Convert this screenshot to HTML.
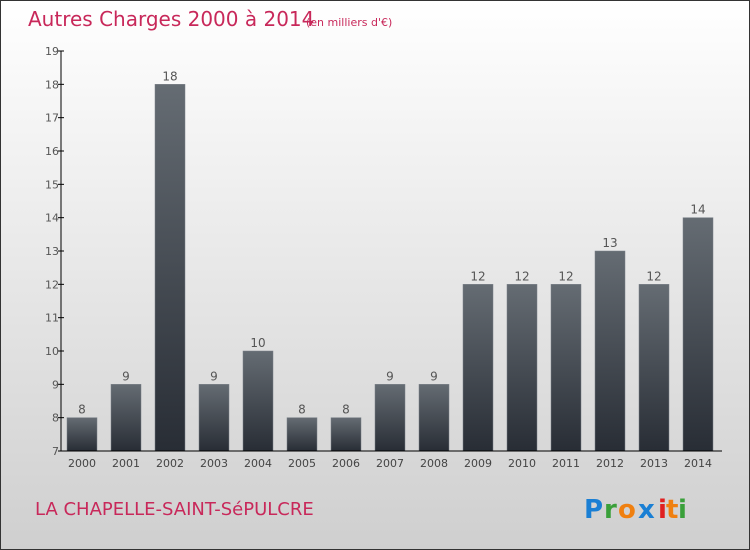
<!DOCTYPE html>
<html><head><meta charset="utf-8"><style>
body{margin:0}
#c{position:relative;width:748px;height:548px;border:1px solid #333;background:linear-gradient(#fff,#cfcfcf);font-family:"DejaVu Sans","Liberation Sans",sans-serif;overflow:hidden}
</style></head><body>
<div id="c">
<svg width="748" height="548" style="position:absolute;left:0;top:0">
<defs><linearGradient id="bg" x1="0" y1="0" x2="0" y2="1"><stop offset="0" stop-color="#656c73"/><stop offset="1" stop-color="#282d35"/></linearGradient></defs>
<text x="27" y="25" font-size="20" fill="#c8285a">Autres Charges 2000 à 2014</text>
<text x="305" y="25" font-size="11" fill="#c8285a">(en milliers d'€)</text>
<text x="34" y="514" font-size="18" fill="#c8285a">LA CHAPELLE-SAINT-SéPULCRE</text>
<g id="plot"></g>
<g font-size="26" font-family="'DejaVu Sans',sans-serif" font-weight="bold">
<text x="583" y="517" fill="#1a7fd4">P</text><text x="603" y="517" fill="#3aa03a">r</text><text x="617" y="517" fill="#f08010">o</text><text x="637" y="517" fill="#1a7fd4">x</text><text x="657" y="517" fill="#e02020">i</text><text x="665" y="517" fill="#f08010">t</text><text x="677" y="517" fill="#3aa03a">i</text>
</g>
</svg>
</div>
<script>
const years=["2000","2001","2002","2003","2004","2005","2006","2007","2008","2009","2010","2011","2012","2013","2014"];
const values=[8,9,18,9,10,8,8,9,9,12,12,12,13,12,14];
const yTicks=[7,8,9,10,11,12,13,14,15,16,17,18,19];
const ns="http://www.w3.org/2000/svg";
const g=document.getElementById('plot');
const y=v=>450-(v-7)*(400/12);
const x=i=>81+i*44;
function mk(t,a){const e=document.createElementNS(ns,t);for(const k in a)e.setAttribute(k,a[k]);g.appendChild(e);return e;}
values.forEach((v,i)=>{
 const r=mk('rect',{x:x(i)-15,y:y(v),width:30,height:450-y(v),fill:'url(#bg)',stroke:'#7a8088','stroke-width':0.5});
 
 
 const t=mk('text',{x:x(i),y:y(v)-4,'font-size':12,'text-anchor':'middle',fill:'#555'});t.textContent=v;
 
 
 const l=mk('text',{x:x(i),y:466,'font-size':11,'text-anchor':'middle',fill:'#444'});l.textContent=years[i];
 
 
});
yTicks.forEach(v=>{
 mk('line',{x1:57,x2:63,y1:y(v),y2:y(v),stroke:'#000'});
 const t=mk('text',{x:58,y:y(v)+4,'font-size':11,'text-anchor':'end',fill:'#555'});t.textContent=v;
 
 
});
const ya=mk('line',{x1:60,x2:60,y1:50,y2:450,stroke:'#000'});


const xa=mk('line',{x1:60,x2:721,y1:450,y2:450,stroke:'#000'});


</script>
</body></html>
